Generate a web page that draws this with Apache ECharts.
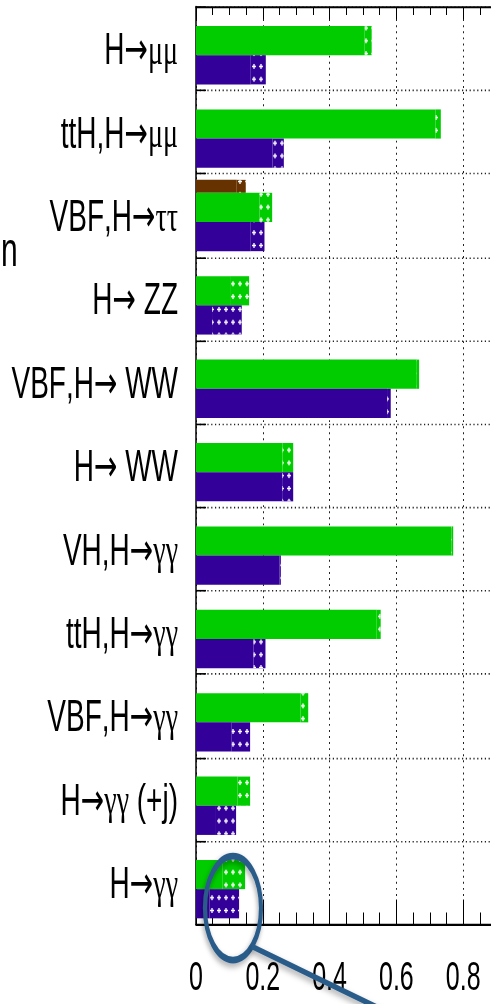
<!DOCTYPE html>
<html>
<head>
<meta charset="utf-8">
<script src="https://cdn.jsdelivr.net/npm/echarts@6/dist/echarts.min.js"></script>
<style>
  html, body { margin: 0; padding: 0; background: #fff; overflow: hidden; }
  #wrap { width: 491px; height: 1004px; overflow: hidden; position: relative; }
  /* the plot is laid out on a shorter canvas and stretched vertically */
  #chart { width: 491px; height: 628px; transform: scale(1, 1.5987); transform-origin: 0 0; }
</style>
</head>
<body>
<div id="wrap"><div id="chart"></div></div>
<script>
// Channels, listed from top to bottom
const categories = [
  'H\u2192\u03bc\u03bc',
  'ttH,H\u2192\u03bc\u03bc',
  'VBF,H\u2192\u03c4\u03c4',
  'H\u2192 ZZ',
  'VBF,H\u2192 WW',
  'H\u2192 WW',
  'VH,H\u2192\u03b3\u03b3',
  'ttH,H\u2192\u03b3\u03b3',
  'VBF,H\u2192\u03b3\u03b3',
  'H\u2192\u03b3\u03b3 (+j)',
  'H\u2192\u03b3\u03b3'
];

// Green set: solid part and full length (dotted tail between them)
const greenSolid = [0.505, 0.717, 0.190, 0.102, 0.661, 0.259, 0.765, 0.541, 0.313, 0.124, 0.080];
const greenFull  = [0.526, 0.733, 0.228, 0.159, 0.668, 0.291, 0.770, 0.553, 0.336, 0.162, 0.147];

// Purple set
const purpleSolid = [0.164, 0.229, 0.164, 0.048, 0.572, 0.258, 0.250, 0.172, 0.107, 0.057, 0.040];
const purpleFull  = [0.209, 0.263, 0.205, 0.137, 0.583, 0.291, 0.254, 0.208, 0.162, 0.120, 0.129];

// Brown set (only one channel)
const brownSolid = [null, null, 0.122, null, null, null, null, null, null, null, null];
const brownFull  = [null, null, 0.149, null, null, null, null, null, null, null, null];

// Axis range and the tick values that carry a label
const xRange = [0, 1.0];
const xTickLabels = [0, 0.2, 0.4, 0.6, 0.8];

const FONT = "'Liberation Sans', Arial, Helvetica, sans-serif";
const GREEK_FONT = "'Liberation Serif', 'DejaVu Serif', serif";
const ARROW_FONT = "'DejaVu Sans', sans-serif";

const plusDecal = {
  symbol: 'path://M1,0H2V1H3V2H2V3H1V2H0V1H1Z',
  symbolSize: 1,
  symbolKeepAspect: false,
  color: '#ffffff',
  dashArrayX: [3.4, 3.0],
  dashArrayY: [2.4, 4.5]
};

function barPair(name, solid, full, color, width) {
  const tail = full.map((v, i) => (v == null ? null : +(v - solid[i]).toFixed(3)));
  return [
    {
      name: name, type: 'bar', stack: name, barWidth: width, barGap: '0%',
      data: solid, itemStyle: { color: color }, silent: true
    },
    {
      name: name + '-tail', type: 'bar', stack: name, barWidth: width, barGap: '0%',
      data: tail, itemStyle: { color: color, decal: plusDecal }, silent: true
    }
  ];
}

// Category labels: arrow and Greek letters get their own fonts
function richLabel(label) {
  let out = '';
  for (const ch of label) {
    if (ch === '\u2192') out += '{a|' + ch + '}';
    else if (/[\u0370-\u03ff]/.test(ch)) out += '{g|' + ch + '}';
    else out += '{t|' + ch + '}';
  }
  return out;
}

const chart = echarts.init(document.getElementById('chart'), null, {
  renderer: 'svg', width: 491, height: 628
});

const dotted = { type: [1.2, 2.6], color: '#222', width: 1 };
const LABEL_SIZE = 28;

chart.setOption({
  animation: false,
  backgroundColor: '#fff',
  grid: { left: 196, right: -39, top: 4.4, bottom: 49.8, outerBoundsMode: 'none', containLabel: false },
  xAxis: [
    {
      type: 'value', position: 'bottom',
      min: xRange[0], max: xRange[1], interval: 0.2,
      axisLine: { show: true, onZero: false, lineStyle: { color: '#000', width: 1.3 } },
      axisTick: { show: true, inside: true, length: 15.5, lineStyle: { color: '#000', width: 1 } },
      minorTick: { show: true, splitNumber: 4, length: 7.5, lineStyle: { color: '#000', width: 1 } },
      axisLabel: {
        show: true, margin: 24, color: '#000', fontSize: 25, lineHeight: 17, fontFamily: FONT,
        formatter: v => (xTickLabels.includes(+v.toFixed(1)) ? String(+v.toFixed(1)) : '')
      },
      splitLine: { show: true, lineStyle: dotted }
    },
    {
      type: 'value', position: 'top',
      min: xRange[0], max: xRange[1], interval: 0.2,
      axisLine: { show: true, onZero: false, lineStyle: { color: '#000', width: 1.2 } },
      axisTick: { show: true, inside: true, length: 8, lineStyle: { color: '#000', width: 1 } },
      minorTick: { show: true, splitNumber: 4, length: 5, lineStyle: { color: '#000', width: 1 } },
      axisLabel: { show: false },
      splitLine: { show: false }
    }
  ],
  yAxis: {
    type: 'category', inverse: true, data: categories,
    axisLine: { show: true, lineStyle: { color: '#000', width: 1.5 } },
    axisTick: { show: true, inside: true, length: 10, lineStyle: { color: '#000', width: 1 } },
    axisLabel: {
      margin: 18, color: '#000', fontSize: LABEL_SIZE, fontFamily: FONT,
      formatter: richLabel,
      rich: {
        t: { fontSize: LABEL_SIZE, fontFamily: FONT, color: '#000' },
        g: { fontSize: LABEL_SIZE, fontFamily: GREEK_FONT, color: '#000' },
        a: { fontSize: LABEL_SIZE, fontFamily: ARROW_FONT, color: '#000' }
      }
    },
    splitLine: { show: true, lineStyle: dotted }
  },
  series: [
    ...barPair('brown', brownSolid, brownFull, '#663300', 8.1),
    ...barPair('green', greenSolid, greenFull, '#00cc00', 18.25),
    ...barPair('purple', purpleSolid, purpleFull, '#330099', 18.25)
  ],
  graphic: [
    {
      type: 'text', x: 1, y: 156, silent: true,
      style: { text: 'n', fontSize: 30, fontFamily: FONT, fill: '#000', verticalAlign: 'middle' }
    },
    {
      type: 'ellipse', silent: true, z: 100,
      shape: { cx: 233, cy: 568, rx: 28, ry: 32.5 },
      style: {
        fill: 'none', stroke: '#2b5c8a', lineWidth: 4.2,
        shadowBlur: 4, shadowColor: 'rgba(0,0,0,0.35)', shadowOffsetX: -1, shadowOffsetY: 2
      }
    },
    {
      type: 'line', silent: true, z: 100,
      shape: { x1: 252, y1: 592, x2: 400, y2: 637 },
      style: {
        stroke: '#2b5c8a', lineWidth: 3.6,
        shadowBlur: 4, shadowColor: 'rgba(0,0,0,0.35)', shadowOffsetX: -1, shadowOffsetY: 2
      }
    }
  ]
});
</script>
</body>
</html>
